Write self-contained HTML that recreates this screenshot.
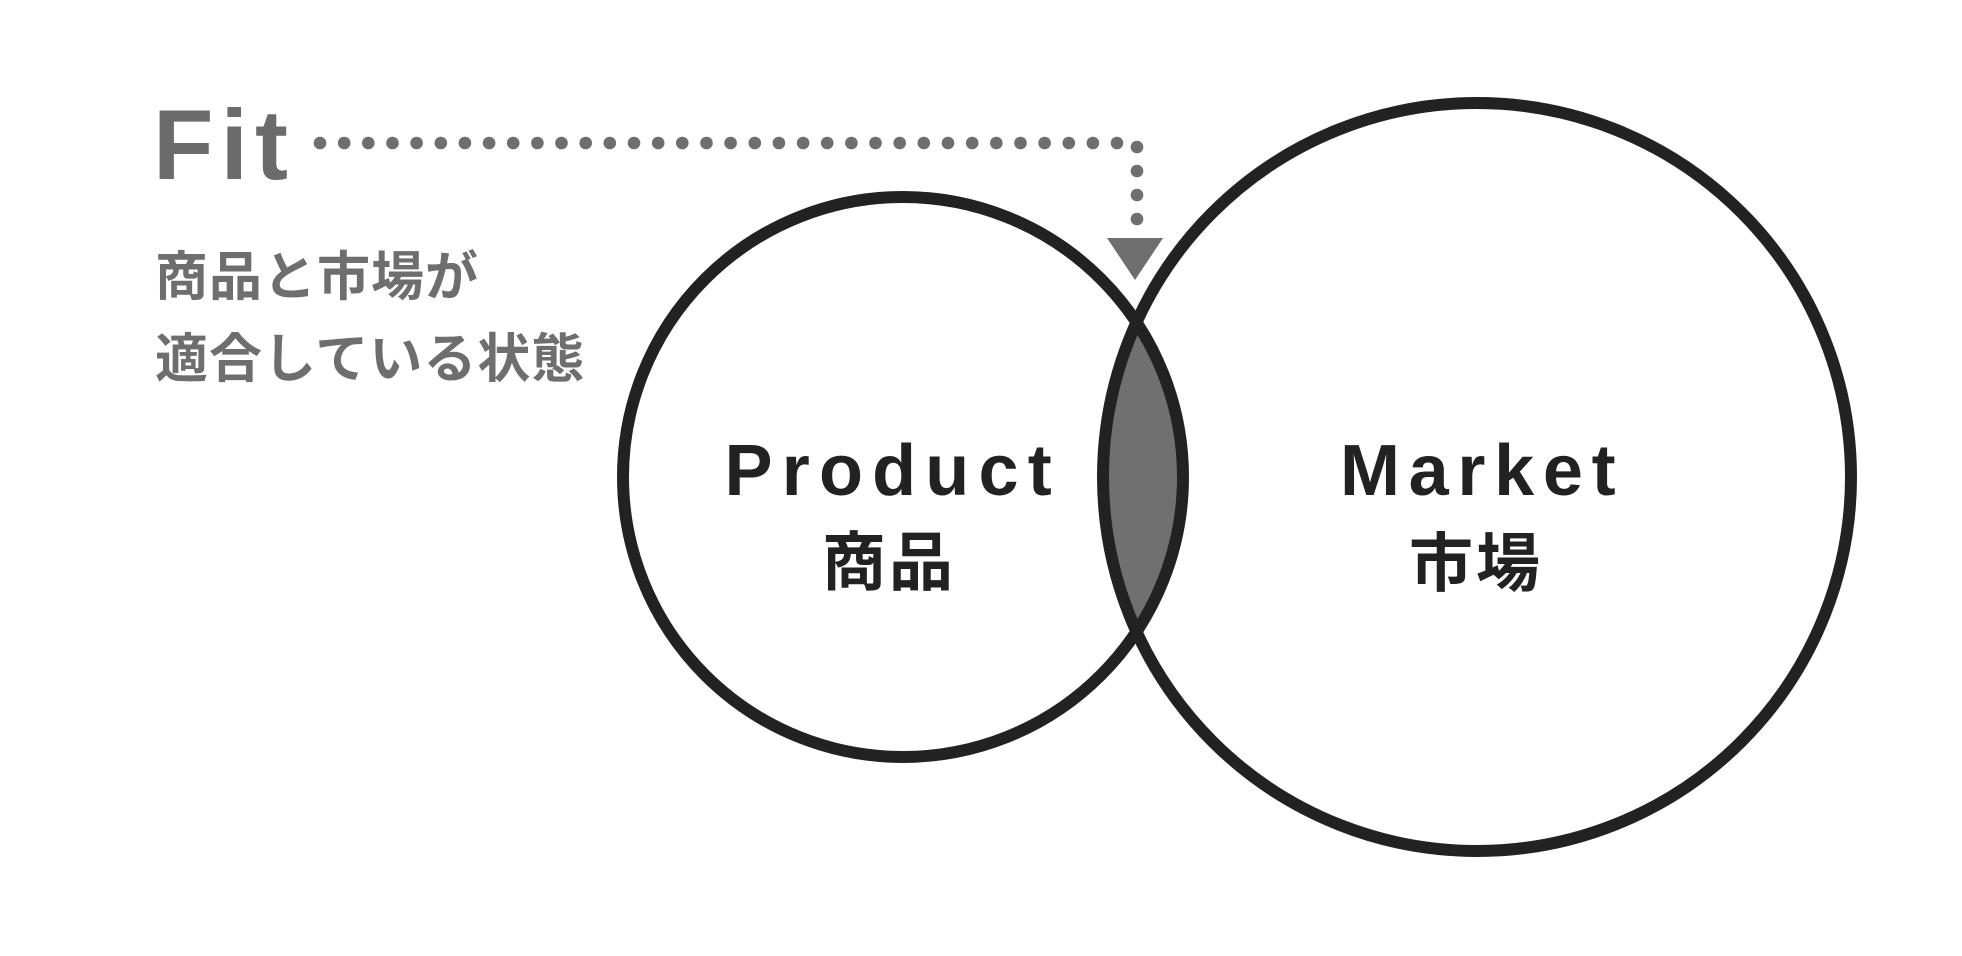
<!DOCTYPE html>
<html>
<head>
<meta charset="utf-8">
<style>
  html, body { margin: 0; padding: 0; background: #ffffff; }
  body { width: 1962px; height: 956px; overflow: hidden; }
  svg { display: block; }
</style>
</head>
<body>
<svg width="1962" height="956" viewBox="0 0 1962 956" xmlns="http://www.w3.org/2000/svg">
  <rect x="0" y="0" width="1962" height="956" fill="#ffffff"/>

  <!-- Lens (intersection) -->
  <path d="M 1136.4 322.3 A 280 280 0 0 1 1136.4 631.7 A 374 374 0 0 1 1136.4 322.3 Z" fill="#707070"/>

  <!-- Circles -->
  <circle cx="903" cy="477" r="280" fill="none" stroke="#222222" stroke-width="12"/>
  <circle cx="1477" cy="477" r="374" fill="none" stroke="#222222" stroke-width="12"/>

  <!-- Dotted connector -->
  <g fill="#6e6e6e">
    <circle cx="320.0" cy="143" r="6.3"/>
    <circle cx="344.2" cy="143" r="6.3"/>
    <circle cx="368.3" cy="143" r="6.3"/>
    <circle cx="392.5" cy="143" r="6.3"/>
    <circle cx="416.6" cy="143" r="6.3"/>
    <circle cx="440.8" cy="143" r="6.3"/>
    <circle cx="464.9" cy="143" r="6.3"/>
    <circle cx="489.1" cy="143" r="6.3"/>
    <circle cx="513.2" cy="143" r="6.3"/>
    <circle cx="537.4" cy="143" r="6.3"/>
    <circle cx="561.5" cy="143" r="6.3"/>
    <circle cx="585.7" cy="143" r="6.3"/>
    <circle cx="609.8" cy="143" r="6.3"/>
    <circle cx="634.0" cy="143" r="6.3"/>
    <circle cx="658.2" cy="143" r="6.3"/>
    <circle cx="682.3" cy="143" r="6.3"/>
    <circle cx="706.5" cy="143" r="6.3"/>
    <circle cx="730.6" cy="143" r="6.3"/>
    <circle cx="754.8" cy="143" r="6.3"/>
    <circle cx="778.9" cy="143" r="6.3"/>
    <circle cx="803.1" cy="143" r="6.3"/>
    <circle cx="827.2" cy="143" r="6.3"/>
    <circle cx="851.4" cy="143" r="6.3"/>
    <circle cx="875.5" cy="143" r="6.3"/>
    <circle cx="899.7" cy="143" r="6.3"/>
    <circle cx="923.8" cy="143" r="6.3"/>
    <circle cx="948.0" cy="143" r="6.3"/>
    <circle cx="972.2" cy="143" r="6.3"/>
    <circle cx="996.3" cy="143" r="6.3"/>
    <circle cx="1020.5" cy="143" r="6.3"/>
    <circle cx="1044.6" cy="143" r="6.3"/>
    <circle cx="1068.8" cy="143" r="6.3"/>
    <circle cx="1092.9" cy="143" r="6.3"/>
    <circle cx="1117.0" cy="143" r="6.3"/>
    <circle cx="1137" cy="147" r="6.3"/>
    <circle cx="1137" cy="171" r="6.3"/>
    <circle cx="1137" cy="195" r="6.3"/>
    <circle cx="1137" cy="219" r="6.3"/>
  </g>
  <!-- Arrowhead -->
  <polygon points="1107,238 1163,238 1135,280" fill="#6e6e6e"/>

  <!-- Fit label -->
  <text x="153" y="179" font-family="'Liberation Sans', sans-serif" font-weight="700" font-size="99" letter-spacing="7" fill="#6b6b6b">Fit</text>

  <!-- Japanese description -->
  <text x="155" y="295" font-family="'Liberation Sans', 'Noto Sans CJK JP', sans-serif" font-weight="700" font-size="53" letter-spacing="1" fill="#6e6e6e">商品と市場が</text>
  <text x="155" y="377" font-family="'Liberation Sans', 'Noto Sans CJK JP', sans-serif" font-weight="700" font-size="53" letter-spacing="1" fill="#6e6e6e">適合している状態</text>

  <!-- Product labels -->
  <text x="724.5" y="495" font-family="'Liberation Sans', sans-serif" font-weight="700" font-size="72" letter-spacing="9.2" fill="#222222">Product</text>
  <text x="822" y="585" font-family="'Liberation Sans', 'Noto Sans CJK JP', sans-serif" font-weight="700" font-size="64" letter-spacing="3" fill="#222222">商品</text>

  <!-- Market labels -->
  <text x="1340" y="495" font-family="'Liberation Sans', sans-serif" font-weight="700" font-size="72" letter-spacing="8.7" fill="#222222">Market</text>
  <text x="1409" y="586" font-family="'Liberation Sans', 'Noto Sans CJK JP', sans-serif" font-weight="700" font-size="64" letter-spacing="3" fill="#222222">市場</text>
</svg>
</body>
</html>
